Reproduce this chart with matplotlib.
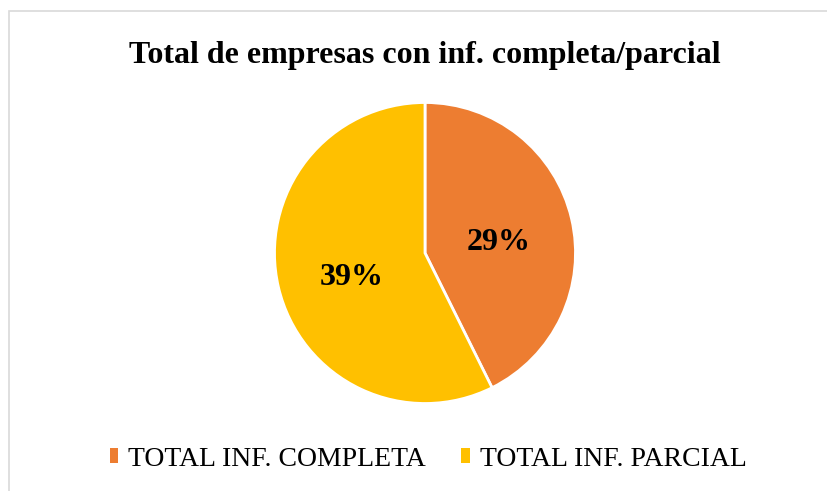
import matplotlib.pyplot as plt
from matplotlib.patches import Rectangle, Patch

# data
categories = ["TOTAL INF. COMPLETA", "TOTAL INF. PARCIAL"]
values = [29, 39]
colors = ["#ED7D31", "#FFC000"]
title = "Total de empresas con inf. completa/parcial"

plt.rcParams['font.family'] = ['Liberation Serif', 'DejaVu Serif']

W, H = 828, 491
fig = plt.figure(figsize=(W / 100, H / 100), dpi=100)

# light chart-area border
fig.patches.append(Rectangle((9 / W, -0.1), 1.2, 1 - 11 / H + 0.1, transform=fig.transFigure,
                             fill=False, edgecolor="#d9d9d9", linewidth=1.2))

# pie axes: centre (425, 253) px, radius 152 px
cx, cy, r = 425, 253, 152
ax = fig.add_axes([(cx - r) / W, (H - cy - r) / H, 2 * r / W, 2 * r / H])
total = sum(values)
wedges, texts, autotexts = ax.pie(
    values, colors=colors, startangle=90, counterclock=False,
    autopct=lambda p: f"{p * total / 100:.0f}%", pctdistance=0.5,
    wedgeprops=dict(edgecolor="white", linewidth=2),
    textprops=dict(fontsize=23, fontweight="bold", color="black"))
# nudge the percentage labels down a little, like the original
for t in autotexts:
    x, y = t.get_position()
    t.set_position((x, y - 0.045))
ax.set_xlim(-1.01, 1.01)
ax.set_ylim(-1.01, 1.01)
ax.set_aspect("equal")
ax.axis("off")

fig.text(cx / W, 1 - 55 / H, title, ha="center", va="center",
         fontsize=23, fontweight="bold")

handles = [Patch(facecolor=c, edgecolor="none") for c in colors]
fig.legend(handles, categories, loc="center", bbox_to_anchor=(428 / W, 1 - 459 / H),
           ncol=2, frameon=False, fontsize=20, handlelength=0.3, handleheight=0.45,
           handletextpad=0.35, columnspacing=1.3)

fig.savefig("out.png", dpi=100)
